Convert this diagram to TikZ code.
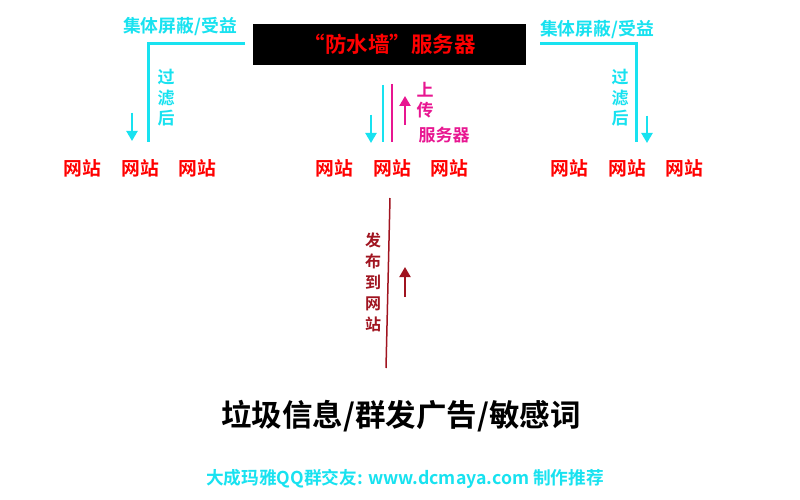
\documentclass[tikz,border=0pt]{standalone}
\usepackage{fontspec}
\setmainfont{Noto Sans CJK SC}[BoldFont={Noto Sans CJK SC Bold}]
\usetikzlibrary{arrows.meta}
\definecolor{cyanc}{RGB}{24,226,240}
\definecolor{magc}{RGB}{232,22,145}
\definecolor{drc}{RGB}{160,20,32}
\definecolor{redc}{RGB}{255,0,0}
\begin{document}
\begin{tikzpicture}[x=1pt,y=-1pt,
  site/.style={font=\bfseries\fontsize{18.8}{18.8}\selectfont, text=redc, inner sep=0pt},
  cyanlbl/.style={font=\bfseries\fontsize{17.8}{17.8}\selectfont, text=cyanc, inner sep=0pt},
  vlbl/.style={font=\bfseries\fontsize{17}{20.5}\selectfont, align=center, inner sep=0pt},
  bracket/.style={draw=cyanc, line width=3pt},
  arr/.style={-{Triangle[width=11pt,length=10pt]}, line width=2.2pt},
]
\useasboundingbox (0,0) rectangle (800,500);
\fill[white] (0,0) rectangle (800,500);

% server box
\node[fill=black, minimum width=273pt, minimum height=41pt, inner sep=0pt,
  text=redc, font=\bfseries\fontsize{21.5}{21.5}\selectfont] (server) at (389.5,44.5) {“防水墙”服务器};

% left group
\node[cyanlbl] (lblL) at (180,27) {集体屏蔽/受益};
\coordinate (lh) at (245,44);
\coordinate (lc) at (148,44);
\coordinate (lb) at (148,142);
\draw[bracket] (lh) -- (lc) -- (lb);
\node[vlbl, text=cyanc] (flL) at (166,98) {过\\滤\\后};
\coordinate (la1) at (132,113);
\coordinate (la2) at (132,141);
\draw[arr, draw=cyanc, fill=cyanc] (la1) -- (la2);
\node[site] (s1) at (82,168) {网站};
\node[site] (s2) at (140,168) {网站};
\node[site] (s3) at (197,168) {网站};

% right group
\node[cyanlbl] (lblR) at (597,30) {集体屏蔽/受益};
\coordinate (rh) at (540,44);
\coordinate (rc) at (636,44);
\coordinate (rb) at (636,142);
\draw[bracket] (rh) -- (rc) -- (rb);
\node[vlbl, text=cyanc] (flR) at (620,98) {过\\滤\\后};
\coordinate (ra1) at (647,116);
\coordinate (ra2) at (647,143);
\draw[arr, draw=cyanc, fill=cyanc] (ra1) -- (ra2);
\node[site] (s7) at (569,168) {网站};
\node[site] (s8) at (627,168) {网站};
\node[site] (s9) at (684,168) {网站};

% middle group
\node[site] (s4) at (334,168) {网站};
\node[site] (s5) at (392,168) {网站};
\node[site] (s6) at (449,168) {网站};
\coordinate (mc1) at (383,85);
\coordinate (mc2) at (383,142);
\draw[draw=cyanc, line width=2.2pt] (mc1) -- (mc2);
\coordinate (mm1) at (392,84);
\coordinate (mm2) at (392,142);
\draw[draw=magc, line width=2.6pt] (mm1) -- (mm2);
\coordinate (ma1) at (371,115);
\coordinate (ma2) at (371,143);
\draw[arr, draw=cyanc, fill=cyanc] (ma1) -- (ma2);
\coordinate (mu1) at (405,125);
\coordinate (mu2) at (405,96);
\draw[arr, draw=magc, fill=magc] (mu1) -- (mu2);
\node[vlbl, text=magc] (up) at (425,100) {上\\传};
\node[cyanlbl, text=magc, font=\bfseries\fontsize{17}{17}\selectfont] (upsrv) at (444,135) {服务器};

% publish line
\coordinate (p1) at (390,198);
\coordinate (p2) at (386,368);
\draw[draw=drc, line width=1.5pt] (p1) -- (p2);
\coordinate (pa1) at (405,297);
\coordinate (pa2) at (405,267);
\draw[arr, draw=drc, fill=drc, line width=2pt] (pa1) -- (pa2);
\node[vlbl, text=drc, font=\bfseries\fontsize{16}{21}\selectfont] (pub) at (373,282) {发\\布\\到\\网\\站};

% bottom
\node[font=\bfseries\fontsize{30.5}{30.5}\selectfont, text=black, inner sep=0pt] (spam) at (401,416) {垃圾信息/群发广告/敏感词};
\node[font=\bfseries\fontsize{17.7}{17.7}\selectfont, text=cyanc, inner sep=0pt] (footer) at (405,479) {大成玛雅QQ群交友: www.dcmaya.com 制作推荐};
\end{tikzpicture}
\end{document}
